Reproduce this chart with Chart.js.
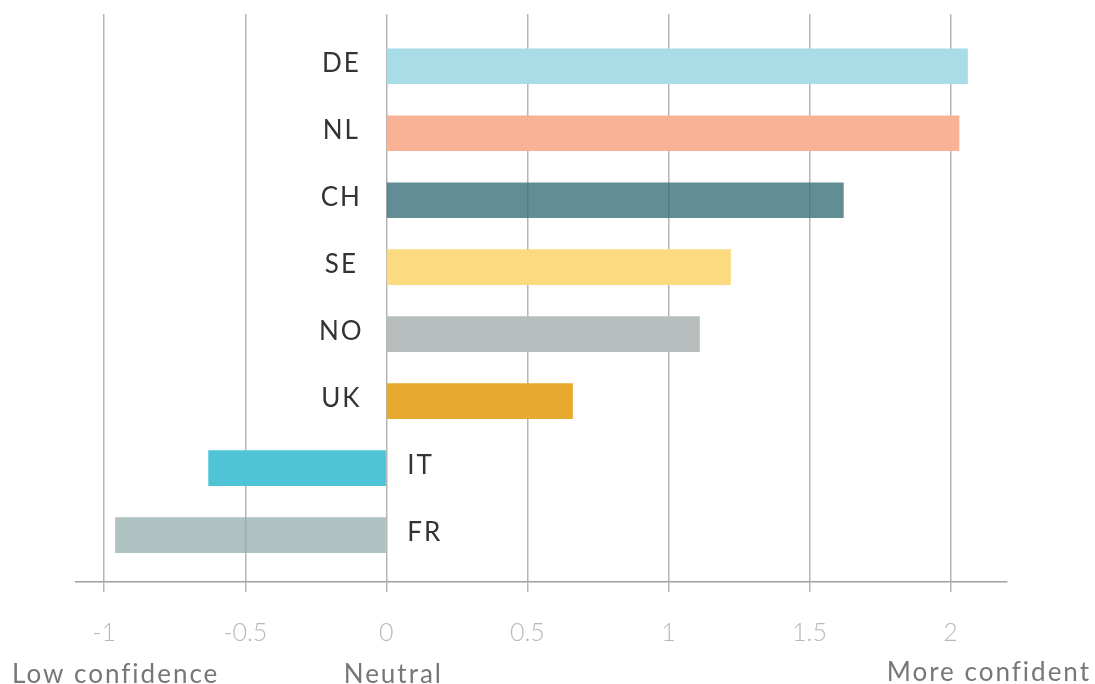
<!DOCTYPE html>
<html>
<head>
<meta charset="utf-8">
<script src="https://cdn.jsdelivr.net/npm/chart.js@4"></script>
<style>
  html, body { margin: 0; padding: 0; background: #fff; }
  #wrap { width: 1095px; height: 684px; }
</style>
</head>
<body>
<div id="wrap"><canvas id="myChart"></canvas></div>
<script>
// Countries, top to bottom
const countries = ['DE', 'NL', 'CH', 'SE', 'NO', 'UK', 'IT', 'FR'];

// Confidence score of each country
const scores = [2.06, 2.03, 1.62, 1.22, 1.11, 0.66, -0.63, -0.96];

// Bar colours (CH and FR are a bit see-through, the grid shows on them)
const barColors = ['#a8dce6', '#f9b295', 'rgba(59,112,122,0.8)', '#fcdb80', '#b8bebe', '#e8aa2e', '#4fc4d6', 'rgba(146,174,172,0.75)'];

// Values shown on the x axis
const tickValues = [-1, -0.5, 0, 0.5, 1, 1.5, 2];

// Words under the axis
const bottomLabels = ['Low confidence', 'Neutral', 'More confident'];

//Country names written next to each bar
const countryLabels = {
    id: 'countryLabels',
    afterDatasetsDraw(chart) {
        const ctx = chart.ctx;
        const xs = chart.scales.x;
        const ys = chart.scales.y;
        const zero = xs.getPixelForValue(0);
        ctx.save();
        ctx.font = '26px Lato';
        ctx.letterSpacing = '2px';
        ctx.fillStyle = '#333';
        ctx.textBaseline = 'middle';
        countries.forEach((name, i) => {
            const y = ys.getPixelForValue(i) - 3;
            if (scores[i] >= 0) {
                ctx.textAlign = 'center';
                ctx.fillText(name, zero - 45, y);
            } else {
                ctx.textAlign = 'left';
                ctx.fillText(name, zero + 21, y);
            }
        });
        ctx.restore();
    }
};

//The three words at the bottom
const axisWords = {
    id: 'axisWords',
    afterDraw(chart) {
        const ctx = chart.ctx;
        const zero = chart.scales.x.getPixelForValue(0);
        ctx.save();
        ctx.font = '26px Lato';
        ctx.letterSpacing = '2px';
        ctx.fillStyle = '#777';
        ctx.textBaseline = 'alphabetic';
        ctx.textAlign = 'left';
        ctx.fillText(bottomLabels[0], 12, 683);
        ctx.textAlign = 'center';
        ctx.fillText(bottomLabels[1], zero + 7, 683);
        ctx.textAlign = 'right';
        ctx.fillText(bottomLabels[2], 1091, 681);
        ctx.restore();
    }
};

const ctx = document.getElementById('myChart');

new Chart(ctx, {
    type: 'bar',
    data: {
        datasets: [{
            data: scores.map((v, i) => ({ x: v, y: i })),
            backgroundColor: barColors,
            borderWidth: 0,
            barThickness: 35
        }]
    },
    options: {
        indexAxis: 'y',
        responsive: true,
        maintainAspectRatio: false,
        animation: false,
        layout: {
            padding: { left: 76, right: 88, top: 14, bottom: 42 }
        },
        plugins: {
            legend: { display: false },
            tooltip: { enabled: false }
        },
        scales: {
            x: {
                type: 'linear',
                min: -1.1,
                max: 2.2,
                afterBuildTicks: (scale) => {
                    scale.ticks = tickValues.map(v => ({ value: v }));
                },
                afterFit: (scale) => {
                    scale.height = 60;
                },
                grid: {
                    color: '#b5b5b5',
                    lineWidth: 1.5,
                    tickLength: 10
                },
                border: {
                    color: '#a0a0a0',
                    width: 1.5
                },
                ticks: {
                    color: '#b8b8b8',
                    padding: 26,
                    font: { family: 'Lato', size: 25, weight: 300 },
                    callback: (value) => String(value)
                }
            },
            y: {
                type: 'linear',
                reverse: true,
                offset: false,
                min: -0.78,
                max: 7.7,
                display: false
            }
        }
    },
    plugins: [countryLabels, axisWords]
});
</script>
</body>
</html>
